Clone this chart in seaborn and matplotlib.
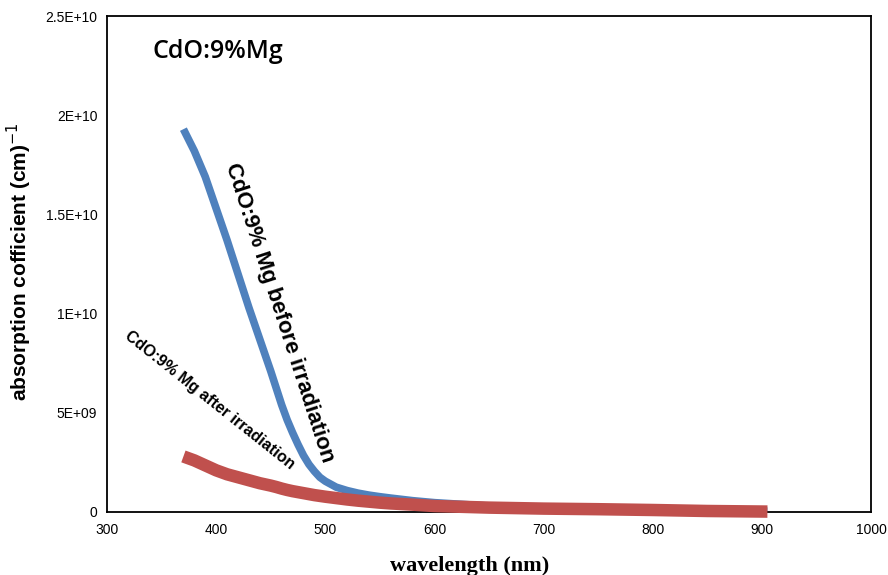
import matplotlib
matplotlib.use("Agg")
import matplotlib.pyplot as plt
import seaborn as sns
import pandas as pd

wavelength = [370, 380, 390, 400, 410, 420, 430, 440, 450, 455, 460, 465, 470, 475, 480,
              485, 490, 495, 500, 510, 520, 530, 540, 550, 560, 580, 600, 650, 700, 750,
              800, 850, 905]
before_irr = [1.93e10, 1.82e10, 1.69e10, 1.53e10, 1.37e10, 1.20e10, 1.03e10, 0.87e10,
              0.71e10, 0.625e10, 0.54e10, 0.465e10, 0.40e10, 0.34e10, 0.285e10,
              0.24e10, 0.205e10, 0.175e10, 0.155e10, 0.125e10, 0.108e10, 0.095e10,
              0.085e10, 0.077e10, 0.070e10, 0.057e10, 0.047e10, 0.030e10, 0.020e10,
              0.013e10, 0.009e10, 0.006e10, 0.004e10]
after_irr = [0.28e10, 0.26e10, 0.235e10, 0.21e10, 0.19e10, 0.175e10, 0.16e10, 0.145e10,
             0.133e10, 0.126e10, 0.118e10, 0.111e10, 0.105e10, 0.10e10, 0.095e10,
             0.09e10, 0.085e10, 0.081e10, 0.077e10, 0.07e10, 0.063e10, 0.057e10,
             0.052e10, 0.047e10, 0.043e10, 0.037e10, 0.030e10, 0.022e10, 0.017e10,
             0.014e10, 0.010e10, 0.005e10, 0.002e10]
series_names = ["CdO:9% Mg before irradiation", "CdO:9% Mg after irradiation"]
x_ticks = [300, 400, 500, 600, 700, 800, 900, 1000]
y_ticks = [0, 5e9, 1e10, 1.5e10, 2e10, 2.5e10]
y_tick_labels = ["0", "5E+09", "1E+10", "1.5E+10", "2E+10", "2.5E+10"]

df = pd.DataFrame({
    "wavelength": wavelength * 2,
    "alpha": before_irr + after_irr,
    "series": [series_names[0]] * len(wavelength) + [series_names[1]] * len(wavelength),
})

sns.set_style("white")
plt.rcParams["font.family"] = ["Liberation Sans", "DejaVu Sans"]
plt.rcParams["text.color"] = "black"
plt.rcParams["axes.labelcolor"] = "black"
plt.rcParams["xtick.color"] = "black"
plt.rcParams["ytick.color"] = "black"

fig = plt.figure(figsize=(8.88, 5.75), dpi=100)
ax = fig.add_axes([0.1205, 0.1096, 0.8605, 0.8624])

sns.lineplot(data=df[df.series == series_names[0]], x="wavelength", y="alpha",
             color="#4f81bd", linewidth=5.5, ax=ax, legend=False)
sns.lineplot(data=df[df.series == series_names[1]], x="wavelength", y="alpha",
             color="#c0504d", linewidth=9, ax=ax, legend=False)
ax.lines[0].set_solid_capstyle("butt")
ax.lines[0].set_solid_joinstyle("round")
ax.lines[0].set_zorder(2)
ax.lines[1].set_solid_capstyle("butt")
ax.lines[1].set_zorder(3)
ax.lines[1].set_clip_on(False)

ax.set_xlim(300, 1000)
ax.set_ylim(0, 2.5e10)
ax.set_xticks(x_ticks)
ax.set_xticklabels([str(t) for t in x_ticks], fontsize=10)
ax.set_yticks(y_ticks)
ax.set_yticklabels(y_tick_labels, fontsize=10)
ax.tick_params(axis="x", direction="in", length=4, width=1, pad=8)
ax.tick_params(axis="y", direction="out", length=4, width=1, pad=3)
for s in ax.spines.values():
    s.set_visible(True)
    s.set_color("black")
    s.set_linewidth(1.3)
    s.set_zorder(2.5)

ax.set_xlabel("wavelength (nm)", fontsize=16, fontweight="bold",
              family=["Liberation Serif", "DejaVu Serif"], va="center")
ax.xaxis.set_label_coords(0.475, -0.108)
ax.set_ylabel("absorption cofficient (cm)$^{-1}$", fontsize=15, fontweight="bold",
              va="center")
ax.yaxis.set_label_coords(-0.114, 0.505)

fig.text(218 / 888, 1 - 51 / 575, "CdO:9%Mg", fontsize=18, fontweight="semibold",
         family=["Open Sans", "DejaVu Sans"], ha="center", va="center")
fig.text(279 / 888, 1 - 313 / 575, "CdO:9% Mg before irradiation", rotation=-72,
         fontsize=16, fontweight="bold", ha="center", va="center")
fig.text(210 / 888, 1 - 400 / 575, "CdO:9% Mg after irradiation", rotation=-38.5,
         fontsize=11.5, fontweight="bold", ha="center", va="center")

fig.savefig("out.png", dpi=100)
